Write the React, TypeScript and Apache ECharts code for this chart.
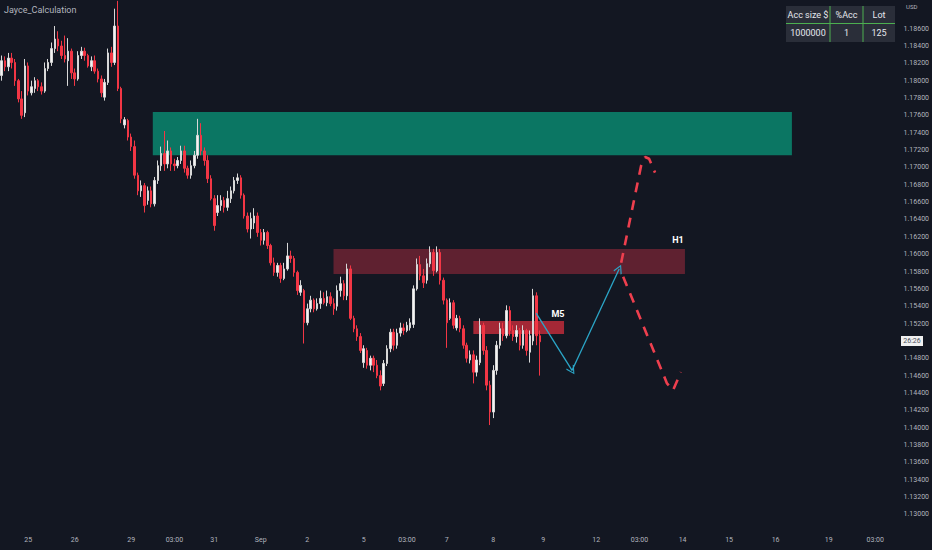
import React, { useEffect, useRef } from "react";
import * as echarts from "echarts";

// ---- data ----
// candles: [open, close, low, high] (EURUSD-like)
const candles: number[][] = [
  [1.1806, 1.1823, 1.1800, 1.1829],
  [1.1823, 1.1816, 1.1811, 1.1828],
  [1.1816, 1.1826, 1.1811, 1.1832],
  [1.1826, 1.1821, 1.1814, 1.1832],
  [1.1821, 1.1800, 1.1794, 1.1825],
  [1.1800, 1.1779, 1.1775, 1.1802],
  [1.1779, 1.1760, 1.1756, 1.1788],
  [1.1763, 1.1817, 1.1758, 1.1825],
  [1.1817, 1.1788, 1.1783, 1.1821],
  [1.1786, 1.1793, 1.1783, 1.1800],
  [1.1791, 1.1800, 1.1786, 1.1804],
  [1.1800, 1.1793, 1.1788, 1.1802],
  [1.1793, 1.1788, 1.1784, 1.1798],
  [1.1788, 1.1814, 1.1786, 1.1821],
  [1.1814, 1.1821, 1.1811, 1.1825],
  [1.1821, 1.1837, 1.1817, 1.1844],
  [1.1837, 1.1848, 1.1832, 1.1863],
  [1.1848, 1.1840, 1.1834, 1.1857],
  [1.1840, 1.1829, 1.1825, 1.1846],
  [1.1829, 1.1825, 1.1821, 1.1852],
  [1.1823, 1.1834, 1.1794, 1.1849],
  [1.1834, 1.1809, 1.1802, 1.1837],
  [1.1809, 1.1802, 1.1794, 1.1814],
  [1.1802, 1.1829, 1.1800, 1.1834],
  [1.1829, 1.1834, 1.1825, 1.1839],
  [1.1834, 1.1829, 1.1823, 1.1838],
  [1.1829, 1.1817, 1.1815, 1.1831],
  [1.1816, 1.1823, 1.1811, 1.1828],
  [1.1823, 1.1811, 1.1808, 1.1829],
  [1.1811, 1.1802, 1.1798, 1.1814],
  [1.1802, 1.1786, 1.1781, 1.1806],
  [1.1781, 1.1798, 1.1777, 1.1802],
  [1.1798, 1.1832, 1.1795, 1.1837],
  [1.1832, 1.1821, 1.1816, 1.1839],
  [1.1821, 1.1863, 1.1818, 1.1883],
  [1.1863, 1.1791, 1.1788, 1.1892],
  [1.1791, 1.1756, 1.1751, 1.1793],
  [1.1749, 1.1755, 1.1745, 1.1758],
  [1.1754, 1.1735, 1.1731, 1.1756],
  [1.1735, 1.1724, 1.1719, 1.1739],
  [1.1724, 1.1691, 1.1687, 1.1731],
  [1.1691, 1.1673, 1.1668, 1.1694],
  [1.1673, 1.1679, 1.1666, 1.1685],
  [1.1679, 1.1656, 1.1648, 1.1682],
  [1.1662, 1.1673, 1.1657, 1.1678],
  [1.1673, 1.1658, 1.1654, 1.1678],
  [1.1658, 1.1685, 1.1655, 1.1689],
  [1.1685, 1.1702, 1.1681, 1.1708],
  [1.1702, 1.1716, 1.1696, 1.1724],
  [1.1716, 1.1704, 1.1696, 1.1742],
  [1.1704, 1.1719, 1.1699, 1.1731],
  [1.1719, 1.1704, 1.1696, 1.1723],
  [1.1704, 1.1702, 1.1696, 1.1710],
  [1.1702, 1.1708, 1.1699, 1.1712],
  [1.1708, 1.1719, 1.1704, 1.1725],
  [1.1719, 1.1699, 1.1694, 1.1725],
  [1.1699, 1.1691, 1.1687, 1.1702],
  [1.1691, 1.1702, 1.1687, 1.1708],
  [1.1702, 1.1714, 1.1699, 1.1719],
  [1.1714, 1.1737, 1.1710, 1.1756],
  [1.1737, 1.1719, 1.1714, 1.1751],
  [1.1719, 1.1708, 1.1702, 1.1723],
  [1.1708, 1.1687, 1.1682, 1.1714],
  [1.1687, 1.1664, 1.1662, 1.1691],
  [1.1664, 1.1633, 1.1627, 1.1668],
  [1.1648, 1.1656, 1.1644, 1.1668],
  [1.1656, 1.1662, 1.1650, 1.1668],
  [1.1662, 1.1654, 1.1648, 1.1666],
  [1.1654, 1.1664, 1.1650, 1.1673],
  [1.1664, 1.1673, 1.1659, 1.1678],
  [1.1673, 1.1685, 1.1670, 1.1689],
  [1.1685, 1.1688, 1.1681, 1.1693],
  [1.1688, 1.1668, 1.1664, 1.1691],
  [1.1668, 1.1644, 1.1641, 1.1670],
  [1.1644, 1.1629, 1.1625, 1.1648],
  [1.1629, 1.1641, 1.1618, 1.1648],
  [1.1636, 1.1644, 1.1629, 1.1653],
  [1.1644, 1.1625, 1.1620, 1.1648],
  [1.1625, 1.1616, 1.1610, 1.1629],
  [1.1616, 1.1625, 1.1611, 1.1629],
  [1.1625, 1.1610, 1.1606, 1.1627],
  [1.1610, 1.1590, 1.1587, 1.1612],
  [1.1590, 1.1579, 1.1575, 1.1596],
  [1.1579, 1.1587, 1.1574, 1.1590],
  [1.1587, 1.1572, 1.1567, 1.1590],
  [1.1572, 1.1583, 1.1570, 1.1590],
  [1.1583, 1.1598, 1.1581, 1.1613],
  [1.1598, 1.1595, 1.1590, 1.1604],
  [1.1595, 1.1579, 1.1574, 1.1598],
  [1.1579, 1.1558, 1.1553, 1.1581],
  [1.1556, 1.1564, 1.1552, 1.1570],
  [1.1558, 1.1521, 1.1497, 1.1560],
  [1.1521, 1.1537, 1.1518, 1.1543],
  [1.1537, 1.1547, 1.1533, 1.1552],
  [1.1547, 1.1537, 1.1533, 1.1549],
  [1.1537, 1.1543, 1.1535, 1.1549],
  [1.1543, 1.1549, 1.1537, 1.1558],
  [1.1549, 1.1544, 1.1542, 1.1556],
  [1.1544, 1.1551, 1.1540, 1.1558],
  [1.1551, 1.1543, 1.1540, 1.1556],
  [1.1543, 1.1537, 1.1530, 1.1549],
  [1.1540, 1.1558, 1.1535, 1.1564],
  [1.1558, 1.1566, 1.1551, 1.1574],
  [1.1566, 1.1552, 1.1547, 1.1570],
  [1.1552, 1.1583, 1.1547, 1.1589],
  [1.1583, 1.1526, 1.1524, 1.1587],
  [1.1526, 1.1514, 1.1510, 1.1529],
  [1.1514, 1.1505, 1.1500, 1.1518],
  [1.1505, 1.1489, 1.1486, 1.1509],
  [1.1475, 1.1491, 1.1469, 1.1495],
  [1.1489, 1.1472, 1.1468, 1.1492],
  [1.1472, 1.1480, 1.1466, 1.1483],
  [1.1480, 1.1472, 1.1464, 1.1483],
  [1.1472, 1.1460, 1.1457, 1.1478],
  [1.1460, 1.1448, 1.1443, 1.1466],
  [1.1451, 1.1474, 1.1448, 1.1478],
  [1.1474, 1.1491, 1.1471, 1.1495],
  [1.1491, 1.1510, 1.1487, 1.1514],
  [1.1510, 1.1495, 1.1489, 1.1514],
  [1.1495, 1.1509, 1.1491, 1.1514],
  [1.1509, 1.1515, 1.1505, 1.1521],
  [1.1515, 1.1512, 1.1507, 1.1520],
  [1.1512, 1.1518, 1.1510, 1.1522],
  [1.1515, 1.1521, 1.1512, 1.1526],
  [1.1519, 1.1560, 1.1515, 1.1564],
  [1.1560, 1.1588, 1.1558, 1.1595],
  [1.1588, 1.1575, 1.1570, 1.1598],
  [1.1575, 1.1567, 1.1561, 1.1583],
  [1.1570, 1.1589, 1.1566, 1.1595],
  [1.1589, 1.1602, 1.1585, 1.1609],
  [1.1602, 1.1581, 1.1575, 1.1606],
  [1.1581, 1.1602, 1.1579, 1.1609],
  [1.1602, 1.1570, 1.1565, 1.1606],
  [1.1570, 1.1547, 1.1542, 1.1573],
  [1.1547, 1.1521, 1.1492, 1.1549],
  [1.1526, 1.1544, 1.1524, 1.1549],
  [1.1544, 1.1518, 1.1514, 1.1547],
  [1.1515, 1.1526, 1.1512, 1.1530],
  [1.1526, 1.1514, 1.1510, 1.1529],
  [1.1514, 1.1495, 1.1491, 1.1518],
  [1.1495, 1.1480, 1.1475, 1.1498],
  [1.1478, 1.1484, 1.1474, 1.1489],
  [1.1484, 1.1464, 1.1451, 1.1489],
  [1.1464, 1.1478, 1.1459, 1.1483],
  [1.1475, 1.1518, 1.1472, 1.1526],
  [1.1518, 1.1489, 1.1484, 1.1521],
  [1.1489, 1.1449, 1.1443, 1.1494],
  [1.1449, 1.1418, 1.1403, 1.1454],
  [1.1418, 1.1466, 1.1411, 1.1472],
  [1.1466, 1.1495, 1.1461, 1.1500],
  [1.1495, 1.1514, 1.1491, 1.1521],
  [1.1514, 1.1506, 1.1500, 1.1521],
  [1.1506, 1.1535, 1.1503, 1.1541],
  [1.1535, 1.1512, 1.1506, 1.1540],
  [1.1512, 1.1505, 1.1500, 1.1518],
  [1.1505, 1.1512, 1.1498, 1.1518],
  [1.1512, 1.1495, 1.1489, 1.1515],
  [1.1495, 1.1512, 1.1491, 1.1518],
  [1.1512, 1.1489, 1.1483, 1.1514],
  [1.1487, 1.1506, 1.1475, 1.1512],
  [1.1500, 1.1552, 1.1495, 1.1560],
  [1.1552, 1.1506, 1.1495, 1.1556],
  [1.1506, 1.1499, 1.1460, 1.1512],
];

const SLOT_COUNT = 269;
const xTickSlots = [8, 22, 39, 52, 64, 78, 92, 109, 122, 134, 148, 163, 179, 192, 205, 219, 233, 249, 263];
const xTickTexts = ["25", "26", "29", "03:00", "31", "Sep", "2", "5", "03:00", "7", "8", "9", "12", "03:00", "14", "15", "16", "19", "03:00"];

// zones: [xStartSlot, xEndSlot, lowPrice, highPrice]
const supplyZoneTop = [46.0, 238.4, 1.1714, 1.1764];
const zoneH1 = [100.4, 206.2, 1.1577, 1.1606];
const zoneM5 = [142.5, 169.8, 1.1508, 1.1523];

// projected path (slot, price)
const bluePath = [
  [161.4, 1.1532],
  [172.2, 1.1466],
  [186.4, 1.1583],
];
const redPathUp = [
  [187.0, 1.159],
  [193.0, 1.1702],
  [194.2, 1.1712],
  [195.4, 1.171],
  [197.2, 1.1694],
];
const redPathDown = [
  [187.6, 1.1574],
  [200.8, 1.1451],
  [202.6, 1.1443],
  [205.0, 1.1464],
];

const tableHeader = ["Acc size $", "%Acc", "Lot"];
const tableRow = ["1000000", "1", "125"];

const AXIS_TXT = "#b2b5be";

export default function App() {
  const ref = useRef<HTMLDivElement>(null);

  useEffect(() => {
    if (!ref.current) return;
    const chart = echarts.init(ref.current, undefined, { renderer: "svg" });
    const slots = Array.from({ length: SLOT_COUNT }, (_, i) => String(i));
    const tickMap = new Map<number, string>();
    xTickSlots.forEach((s, i) => tickMap.set(s, xTickTexts[i]));

    const zoneArea = (z: number[], color: string) => [
      { coord: [z[0], z[3]], itemStyle: { color } },
      { coord: [z[1], z[2]] },
    ];

    const chevron = "path://M5,0L10,9L9,10L5,2.4L1,10L0,9Z";

    const colX = [22, 60.5, 93];
    const tableLeft = 786;
    const tableTop = 6;

    const option: any = {
      animation: false,
      backgroundColor: "#131722",
      textStyle: { fontFamily: "Roboto, 'Noto Sans', sans-serif" },
      grid: { left: 0, right: 37, top: 0, bottom: 35.6 },
      xAxis: [
        {
          type: "category",
          data: slots,
          boundaryGap: true,
          axisLine: { show: false },
          axisTick: { show: false },
          splitLine: { show: false },
          axisLabel: {
            interval: (idx: number) => tickMap.has(idx),
            formatter: (v: string) => tickMap.get(parseInt(v, 10)) ?? "",
            color: AXIS_TXT,
            fontSize: 7,
            margin: 22,
          },
        },
        { type: "value", min: 0, max: SLOT_COUNT, show: false },
      ],
      yAxis: {
        type: "value",
        position: "right",
        min: 1.13,
        max: 1.1893,
        interval: 0.002,
        splitLine: { show: false },
        axisLine: { show: false },
        axisTick: { show: false },
        axisLabel: {
          color: AXIS_TXT,
          fontSize: 7,
          margin: 10,
          // the 1.15000 label sits under the countdown box in the reference
          formatter: (v: number) =>
            v > 1.1875 || Math.abs(v - 1.15) < 0.0005 ? "" : v.toFixed(5),
        },
      },
      series: [
        {
          type: "line",
          name: "zones",
          xAxisIndex: 1,
          data: [],
          z: 1,
          silent: true,
          markArea: {
            silent: true,
            data: [
              zoneArea(supplyZoneTop, "#0b7663"),
              zoneArea(zoneH1, "#5f2130"),
            ],
          },
        },
        {
          type: "candlestick",
          name: "price",
          data: candles,
          z: 2,
          barWidth: 2,
          itemStyle: {
            color: "#f4f4f4",
            color0: "#f23645",
            borderColor: "#d8d8d8",
            borderColor0: "#f23645",
            borderWidth: 1,
          },
        },
        {
          type: "line",
          name: "m5",
          xAxisIndex: 1,
          data: [],
          z: 3,
          silent: true,
          markArea: {
            silent: true,
            data: [zoneArea(zoneM5, "rgba(196,44,58,0.82)")],
          },
        },
        {
          type: "line",
          name: "blue",
          xAxisIndex: 1,
          data: [],
          z: 4,
          silent: true,
          markLine: {
            silent: true,
            symbol: ["none", chevron],
            symbolSize: [9, 9],
            label: { show: false },
            lineStyle: { color: "#2ba6c8", width: 1.3, type: "solid" },
            emphasis: { disabled: true },
            data: [
              [{ coord: bluePath[0] }, { coord: bluePath[1] }],
              [{ coord: bluePath[1] }, { coord: bluePath[2] }],
            ],
          },
        },
        {
          type: "line",
          name: "up",
          xAxisIndex: 1,
          data: redPathUp,
          z: 5,
          symbol: "none",
          silent: true,
          lineStyle: { color: "#ee3f4e", width: 2.6, type: [10, 8] },
        },
        {
          type: "line",
          name: "down",
          xAxisIndex: 1,
          data: redPathDown,
          z: 5,
          symbol: "none",
          silent: true,
          lineStyle: { color: "#ee3f4e", width: 2.6, type: [10, 8] },
        },
      ],
      graphic: [
        {
          type: "text",
          left: 4,
          top: 5,
          style: { text: "Jayce_Calculation", fill: AXIS_TXT, fontSize: 9, fontFamily: "Roboto, sans-serif" },
        },
        {
          type: "text",
          left: 906,
          top: 3,
          style: { text: "USD", fill: AXIS_TXT, fontSize: 6, fontFamily: "Roboto, sans-serif" },
        },
        {
          type: "text",
          x: 678,
          y: 240,
          style: { text: "H1", fill: "#ffffff", fontSize: 9, fontWeight: "bold", align: "center", verticalAlign: "middle", fontFamily: "Roboto, sans-serif" },
        },
        {
          type: "text",
          x: 558,
          y: 314,
          style: { text: "M5", fill: "#ffffff", fontSize: 9, fontWeight: "bold", align: "center", verticalAlign: "middle", fontFamily: "Roboto, sans-serif" },
        },
        {
          type: "rect",
          shape: { x: 901, y: 336, width: 22, height: 10 },
          style: { fill: "#f0f0f0" },
        },
        {
          type: "text",
          x: 912,
          y: 341,
          style: { text: "26:26", fill: "#4a4e59", fontSize: 7, align: "center", verticalAlign: "middle", fontFamily: "Roboto, sans-serif" },
        },
        {
          type: "group",
          x: tableLeft,
          y: tableTop,
          children: [
            { type: "rect", shape: { x: 0, y: 0, width: 109, height: 36 }, style: { fill: "#2a2e39" } },
            { type: "line", shape: { x1: 0, y1: 17.5, x2: 109, y2: 17.5 }, style: { stroke: "#4caf50", lineWidth: 1.2 } },
            { type: "line", shape: { x1: 44, y1: 0, x2: 44, y2: 36 }, style: { stroke: "#4caf50", lineWidth: 1 } },
            { type: "line", shape: { x1: 77, y1: 0, x2: 77, y2: 36 }, style: { stroke: "#4caf50", lineWidth: 1 } },
            ...tableHeader.map((t, i) => ({
              type: "text",
              x: colX[i],
              y: 9,
              style: { text: t, fill: "#e6e8ee", fontSize: 9, align: "center", verticalAlign: "middle", fontFamily: "Roboto, sans-serif" },
            })),
            ...tableRow.map((t, i) => ({
              type: "text",
              x: colX[i],
              y: 27,
              style: { text: t, fill: "#e6e8ee", fontSize: 9, align: "center", verticalAlign: "middle", fontFamily: "Roboto, sans-serif" },
            })),
          ],
        },
      ],
    };

    chart.setOption(option);
    return () => chart.dispose();
  }, []);

  return (
    <div
      ref={ref}
      style={{ position: "fixed", left: 0, top: 0, width: 932, height: 550 }}
    />
  );
}
